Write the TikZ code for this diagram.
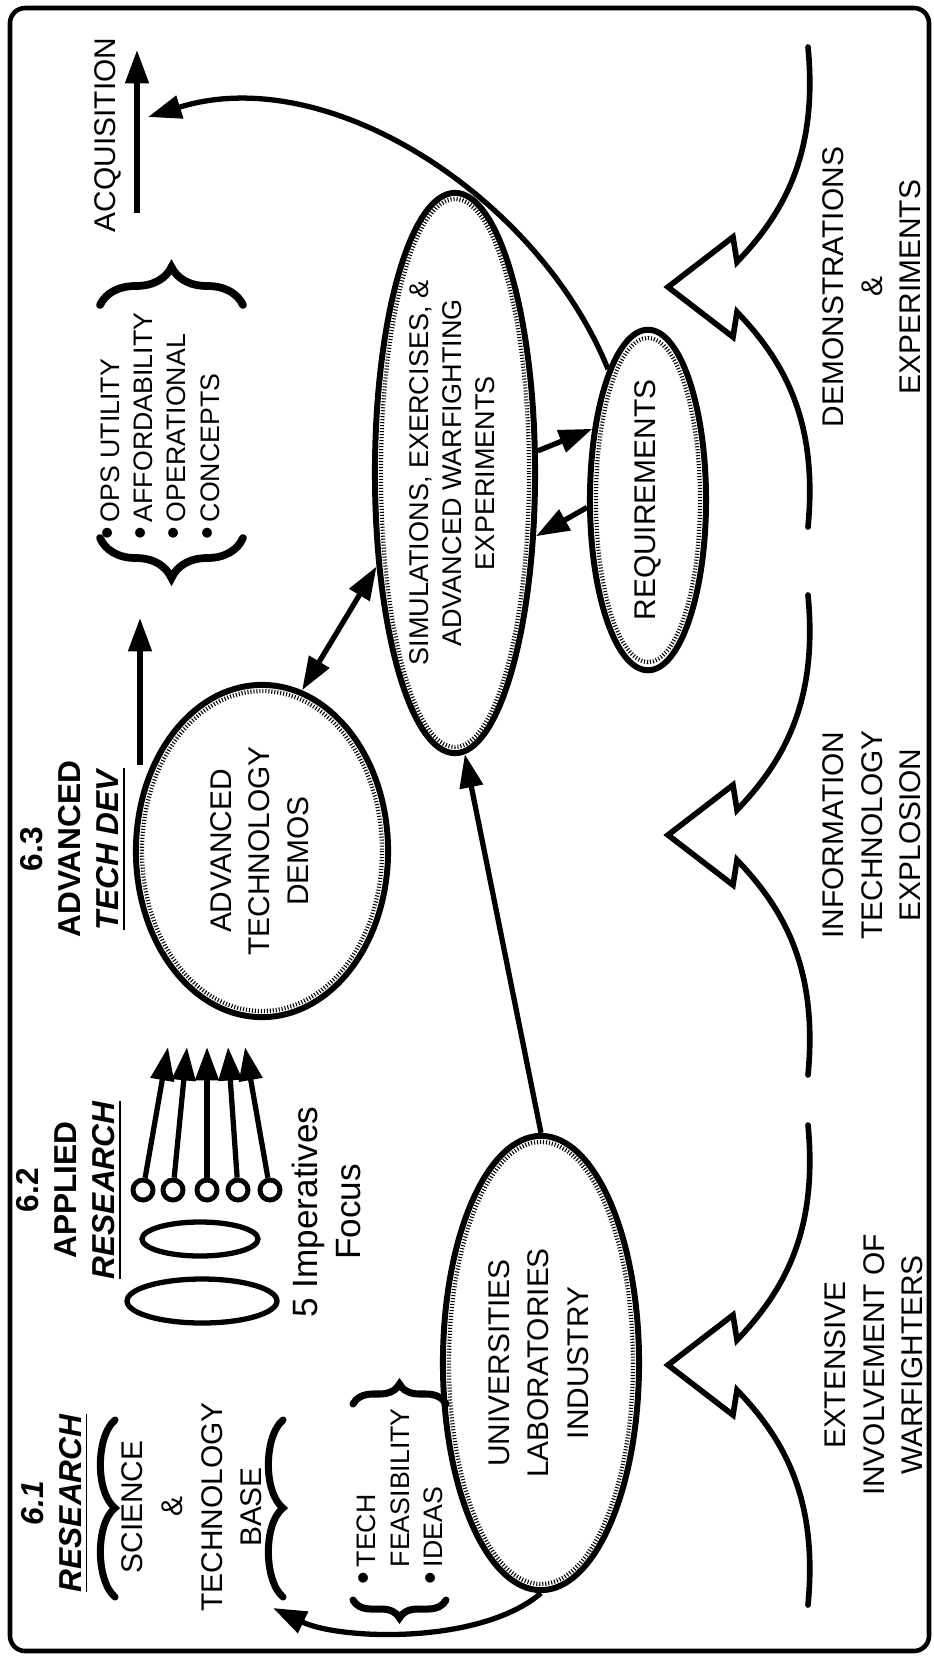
\documentclass[tikz,border=0pt]{standalone}
\usepackage{fontspec}
\setmainfont{Liberation Sans}
\usepackage{graphicx}
\usetikzlibrary{
    arrows.meta,
    decorations.pathreplacing,
    shapes.geometric
}
\newcommand{\vtext}[1]{\rotatebox{90}{\begin{tabular}{@{}c@{}}#1\end{tabular}}}
\newcommand{\dotitem}{\scalebox{1.35}{\textbullet}\,}

\begin{document}
\begin{tikzpicture}[x=0.01cm, y=-0.01cm, >={Triangle[length=9.5pt,width=6.5pt]},
    heavy/.style={line width=1.5pt},
    bubble/.style={draw, ellipse, line width=1.7pt, inner sep=0pt,
        font=\fontsize{8.5}{11}\selectfont},
    hatch/.style={line width=1.2pt, dash pattern=on 0.3pt off 0.55pt},
    rot/.style={rotate=90, align=center, inner sep=0pt,
        font=\fontsize{8.5}{10.9}\selectfont},
    head/.style={rot, font=\fontsize{9}{10.9}\selectfont\bfseries},
    list/.style={rotate=90, align=left, anchor=west, inner sep=0pt,
        font=\fontsize{7.6}{9.5}\selectfont},
    bracket/.style={line width=2.2pt, line cap=round, decorate,
        decoration={brace, amplitude=#1}},
    wave/.style={line width=2pt, line cap=round},
    bolt/.style={line width=1.6pt, line cap=round, line join=miter},
    ring/.style={circle, draw, line width=1.4pt, minimum size=0.2cm, inner sep=0pt}
]
    \useasboundingbox (0,0) rectangle (934,1656);
    \draw[line width=1.3pt, rounded corners=4.3pt] (10,8) rectangle (929,1651);

    \node[head] (l61) at (55,1503) {\textit{6.1}\\\underline{\textit{RESEARCH}}};
    \node[head] (l62) at (69,1190) {6.2\\APPLIED\\\underline{\textit{RESEARCH}}};
    \node[head] (l63) at (73,849) {6.3\\ADVANCED\\\underline{\textit{TECH DEV}}};

    \node[rot] (acq) at (108,135) {ACQUISITION};
    \coordinate (acqfoot) at (137,213);
    \coordinate (acqtop) at (137,50);
    \draw[heavy,->] (acqfoot) -- (acqtop);
    \coordinate (devfoot) at (140,765);
    \coordinate (devtop) at (140,618);
    \draw[heavy,->] (devfoot) -- (devtop);

    \draw[bracket=0.38cm] (100,305) -- (243,305);
    \draw[bracket=0.4cm] (243,538) -- (100,538);
    \node[list] (opslist) at (160,540) {\dotitem OPS UTILITY\\\dotitem AFFORDABILITY\\\dotitem OPERATIONAL\\\dotitem CONCEPTS};

    \node[bubble, minimum width=2.52cm, minimum height=3.32cm] (demos) at (262,851)
        {\vtext{ADVANCED\\TECHNOLOGY\\DEMOS}};
    \node[bubble, minimum width=1.6cm, minimum height=5.6cm,
        font=\fontsize{7.7}{9.4}\selectfont] (sim) at (455,473)
        {\vtext{SIMULATIONS, EXERCISES, \&\\ADVANCED WARFIGHTING\\EXPERIMENTS}};
    \node[bubble, minimum width=1.16cm, minimum height=3.36cm] (req) at (648,500)
        {\vtext{REQUIREMENTS}};
    \node[bubble, minimum width=1.96cm, minimum height=4.54cm,
        font=\fontsize{8.5}{11.3}\selectfont] (univ) at (541,1363)
        {\vtext{UNIVERSITIES\\LABORATORIES\\INDUSTRY}};
    \draw[hatch] (demos) ellipse [x radius=120, y radius=160];
    \draw[hatch] (sim) ellipse [x radius=74, y radius=274];
    \draw[hatch] (req) ellipse [x radius=52, y radius=162];
    \draw[hatch] (univ) ellipse [x radius=92, y radius=221];

    \draw[heavy,<->] (demos.76) -- (sim.230);
    \draw[heavy,->] (sim.15) -- (req.128);
    \draw[heavy,->] (req.187) -- (sim.322);
    \draw[heavy,->] (univ.north) -- (sim.272);
    \coordinate (acqhit) at (148,117);
    \draw[heavy,->] (req.107) .. controls (540,200) and (330,60) .. (acqhit);
    \coordinate (basehit) at (273,1608);
    \draw[heavy,->] (univ.south) .. controls (480,1645) and (340,1640) .. (basehit);

    \foreach \i/\cx/\tx in {1/143/168,2/173/187,3/207/207,4/238/228,5/270/245} {
        \node[ring] (imp\i) at (\cx,1190) {};
        \coordinate (aim\i) at (\tx,1047);
        \draw[heavy,->] (imp\i) -- (aim\i);
    }
    \draw[heavy] (200,1239) ellipse [x radius=58, y radius=17];
    \draw[heavy] (202,1301) ellipse [x radius=75, y radius=22];
    \node[rot, font=\fontsize{10}{12.2}\selectfont] (focus) at (326,1212) {5 Imperatives\\Focus};

    \foreach \bx in {115,283}
        \draw[wave] (\bx,1420) .. controls (\bx-19,1436) and (\bx-20,1492) .. (\bx,1508)
            .. controls (\bx-20,1524) and (\bx-19,1581) .. (\bx,1597);
    \node[rot, font=\fontsize{8.5}{11.3}\selectfont] (stbase) at (192,1507) {SCIENCE\\\&\\TECHNOLOGY\\BASE};

    \draw[bracket=0.2cm, line width=2pt] (353,1404) -- (446,1404);
    \draw[bracket=0.18cm, line width=2pt] (446,1600) -- (353,1600);
    \node[list] (techlist) at (400,1585) {\dotitem TECH\\\phantom{\dotitem}FEASIBILITY\\\dotitem IDEAS};

    \foreach \ty in {287,835,1365}
        \draw[bolt] (808,\ty-240) .. controls (818,\ty-135) and (785,\ty-75) .. (737,\ty-25)
            -- (733,\ty-50) -- (668,\ty) -- (733,\ty+50) -- (737,\ty+25)
            .. controls (785,\ty+75) and (818,\ty+135) .. (808,\ty+240);
    \node[rot] (demolbl) at (872,287) {DEMONSTRATIONS\\\&\\EXPERIMENTS};
    \node[rot] (infolbl) at (872,835) {INFORMATION\\TECHNOLOGY\\EXPLOSION};
    \node[rot] (warlbl) at (874,1365) {EXTENSIVE\\INVOLVEMENT OF\\WARFIGHTERS};
\end{tikzpicture}
\end{document}
